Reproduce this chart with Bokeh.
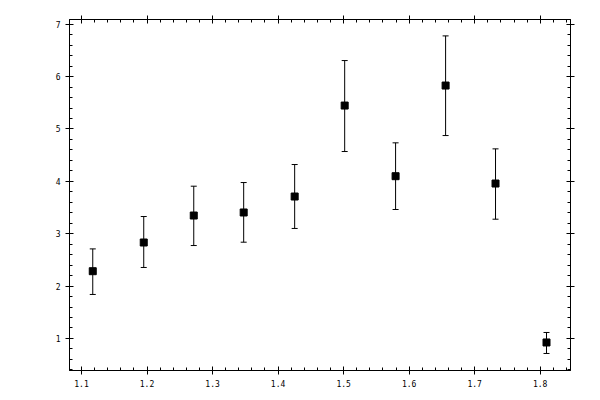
from bokeh.plotting import figure
from bokeh.models import (Range1d, LinearAxis, SingleIntervalTicker, ColumnDataSource,
                          Whisker, TeeHead, CustomJSTickFormatter)
from bokeh.embed import file_html
from bokeh.resources import INLINE

# data
x_vals = [1.1172, 1.1950, 1.2713, 1.3475, 1.4253, 1.5016, 1.5793, 1.6556, 1.7318, 1.8096]
y_vals = [2.284, 2.832, 3.347, 3.405, 3.710, 5.447, 4.098, 5.829, 3.958, 0.923]
y_upper = [2.71, 3.328, 3.907, 3.977, 4.321, 6.306, 4.735, 6.777, 4.62, 1.114]
y_lower = [1.84, 2.355, 2.774, 2.838, 3.10, 4.569, 3.462, 4.874, 3.277, 0.713]

src = ColumnDataSource(dict(x=x_vals, y=y_vals, upper=y_upper, lower=y_lower))

p = figure(width=592, height=392, output_backend="svg", toolbar_location=None,
           x_range=Range1d(1.0817, 1.8462), y_range=Range1d(0.388, 7.09),
           x_axis_location=None, y_axis_location=None,
           min_border_left=69, min_border_top=19, min_border_right=22, min_border_bottom=22)
p.xgrid.visible = False
p.ygrid.visible = False
p.outline_line_color = "black"
p.background_fill_color = "white"
p.border_fill_color = "white"

FONT = "DejaVu Sans Mono"

def style(ax, labels=True):
    ax.axis_line_color = "black"
    ax.axis_line_width = 1
    ax.major_tick_in = 4
    ax.major_tick_out = 4
    ax.minor_tick_in = 3
    ax.minor_tick_out = 0
    ax.major_tick_line_color = "black"
    ax.minor_tick_line_color = "black"
    ax.major_label_text_font = FONT
    ax.major_label_text_font_size = "8px"
    ax.major_label_text_color = "black"
    ax.major_label_standoff = 5
    if not labels:
        ax.formatter = CustomJSTickFormatter(code="return ''")

xb = LinearAxis(ticker=SingleIntervalTicker(interval=0.1, num_minor_ticks=5))
xt = LinearAxis(ticker=SingleIntervalTicker(interval=0.1, num_minor_ticks=5))
yl = LinearAxis(ticker=SingleIntervalTicker(interval=1, num_minor_ticks=5))
yr = LinearAxis(ticker=SingleIntervalTicker(interval=1, num_minor_ticks=5))
style(xb); style(yl)
style(xt, False); style(yr, False)
p.add_layout(xb, "below")
p.add_layout(yl, "left")
p.add_layout(xt, "above")
p.add_layout(yr, "right")

w = Whisker(source=src, base="x", upper="upper", lower="lower",
            line_color="black", line_width=1,
            upper_head=TeeHead(size=6, line_color="black", line_width=1),
            lower_head=TeeHead(size=6, line_color="black", line_width=1))
p.add_layout(w)

p.scatter("x", "y", source=src, marker="square", size=7, fill_color="black", line_color="black")

open("out.html", "w").write(file_html(p, INLINE))
